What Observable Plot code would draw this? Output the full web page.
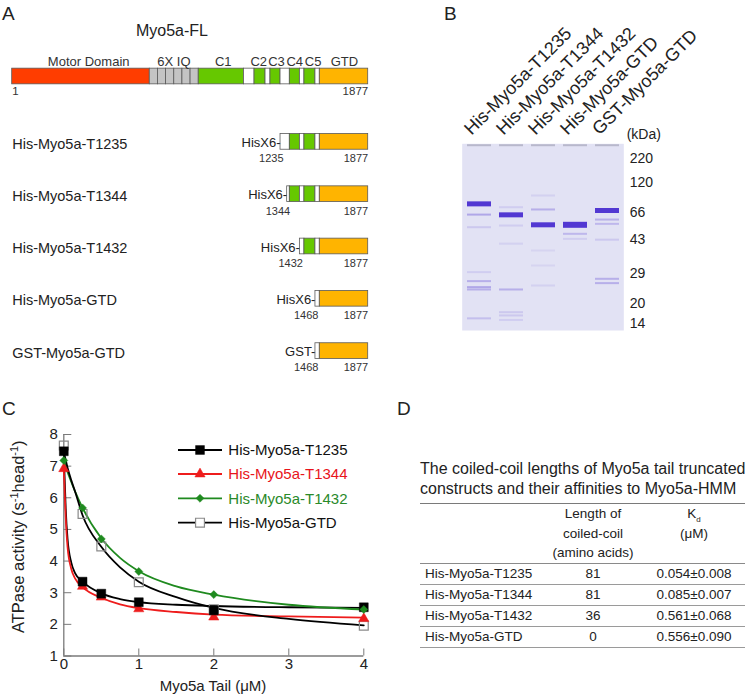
<!DOCTYPE html>
<html><head><meta charset="utf-8">
<script src="https://cdn.jsdelivr.net/npm/d3@7"></script>
<script src="https://cdn.jsdelivr.net/npm/@observablehq/plot@0.6"></script>
<style>
html,body{margin:0;padding:0;background:#fff;}
#fig{position:relative;width:745px;height:696px;overflow:hidden;font-family:"Liberation Sans",Arial,sans-serif;color:#222;}
.abs{position:absolute;white-space:nowrap;line-height:1;}
#fig svg{position:absolute;}
table.kd{position:absolute;border-collapse:collapse;font-size:13.5px;color:#222;}
table.kd td{padding:0;}
</style></head><body><div id="fig"></div>
<script>
// ---------------- Panel A data ----------------
const flSegStart = [1, 726, 769, 812, 855, 898, 941, 984, 1222, 1278, 1336, 1362, 1415, 1464, 1517, 1541, 1599, 1622];
const flSegEnd   = [726, 769, 812, 855, 898, 941, 984, 1222, 1278, 1336, 1362, 1415, 1464, 1517, 1541, 1599, 1622, 1877];
const flSegType  = ["motor","iq","iq","iq","iq","iq","iq","cc","gap","cc","gap","cc","gap","cc","gap","cc","gap","gtd"];
const domainLabels = ["Motor Domain","6X IQ","C1","C2","C3","C4","C5","GTD"];
const domainLabelPos = [404, 853, 1113, 1300, 1394, 1490, 1587, 1752];
const constructNames = ["His-Myo5a-T1235","His-Myo5a-T1344","His-Myo5a-T1432","His-Myo5a-GTD","GST-Myo5a-GTD"];
const constructTags = ["HisX6-","HisX6-","HisX6-","HisX6-","GST-"];
const constructFirstResidue = [1235, 1344, 1432, 1468, 1468];
const constructBarStart = [1415, 1450, 1517, 1599, 1599];
const constructRows = [1.25, 2.25, 3.25, 4.25, 5.25];
const lastResidue = 1877;
const segColors = {motor:"#ff3d00", iq:"#c4c4c4", cc:"#66c800", gap:"#ffffff", gtd:"#ffb400"};

// ---------------- Panel B data ----------------
const gelLanes = ["His-Myo5a-T1235","His-Myo5a-T1344","His-Myo5a-T1432","His-Myo5a-GTD","GST-Myo5a-GTD"];
const mwMarkers = [220, 120, 66, 43, 29, 20, 14];
const bandLane     = [0,0,0,0,0,0,0,0, 1,1,1,1,1,1,1,1, 2,2,2,2,2,2, 3,3,3, 4,4,4,4,4,4, 0,1,2,3,4];
const bandKDa      = [81,64,53.5,29.7,26.8,25,24.3,15.5, 75,63.8,54.9,41.4,24.3,17.4,16.4,15, 96,70.9,55.5,38.6,32.4,25.5, 55.5,48,43.8, 69.1,59.9,56.3,43.1,27.5,26.2, 278,278,278,278,278];
const bandStrength = [1,.35,.15,.12,.3,.35,.3,.2, .12,1,.12,.1,.3,.15,.15,.12, .1,.3,1,.08,.08,.1, 1,.25,.12, 1,.3,.25,.15,.3,.3, .35,.35,.35,.35,.35];
const bandThick    = [5,2,2,2,2,2,2,2, 2,5,2,2,2,2,2,2, 2,2,5,2,2,2, 6,2,2, 5,2,2,2,2,2, 2,2,2,2,2];

// ---------------- Panel C data ----------------
const seriesNames = ["His-Myo5a-T1235","His-Myo5a-T1344","His-Myo5a-T1432","His-Myo5a-GTD"];
const seriesColors = ["#000000","#ee1c1c","#1f8a1f","#000000"];
const seriesTextColors = ["#111111","#e8141b","#2a8a2a","#111111"];
const seriesSymbols = ["square","triangle","diamond2","square"];
const seriesFill = ["#000000","#ee1c1c","#1f8a1f","none"];
const seriesMarkerStroke = ["#000000","#ee1c1c","#1f8a1f","#8a8a8a"];
const seriesMarkerR = [5, 3.8, 3.6, 5];
const tailConc = [0, 0.25, 0.5, 1, 2, 4];
const atpT1235 = [7.47, 3.35, 2.97, 2.70, 2.44, 2.54];
const atpT1344 = [6.92, 3.20, 2.86, 2.49, 2.23, 2.18];
const atpT1432 = [7.18, 5.68, 4.70, 3.67, 2.94, 2.47];
const atpGTD   = [7.65, 5.49, 4.46, 3.33, 2.48, 1.96];
const fitConc  = [0, 0.01, 0.025, 0.05, 0.1, 0.15, 0.25, 0.5, 0.75, 1, 1.5, 2, 3, 4];
const fitT1235 = [7.45, 6.7, 5.7, 4.7, 3.95, 3.62, 3.35, 2.98, 2.8, 2.7, 2.62, 2.58, 2.54, 2.52];
const fitT1344 = [6.92, 6.3, 5.4, 4.45, 3.75, 3.45, 3.18, 2.84, 2.63, 2.51, 2.39, 2.31, 2.25, 2.21];
const fitT1432 = [7.2, 7.12, 7.0, 6.82, 6.5, 6.2, 5.68, 4.72, 4.1, 3.68, 3.2, 2.94, 2.62, 2.47];
const fitGTD   = [7.45, 7.35, 7.2, 6.95, 6.55, 6.2, 5.45, 4.45, 3.8, 3.35, 2.86, 2.52, 2.17, 1.97];
const yTicks = [1, 2, 3, 4, 5, 6, 7, 8];
const xTicks = [0, 1, 2, 3, 4];

// ---------------- Panel D data ----------------
const tableConstructs = ["His-Myo5a-T1235","His-Myo5a-T1344","His-Myo5a-T1432","His-Myo5a-GTD"];
const coiledCoilLength = [81, 81, 36, 0];
const kdMean = [0.054, 0.085, 0.561, 0.556];
const kdErr  = [0.008, 0.007, 0.068, 0.090];

// ---------------- helpers ----------------
const FONT = "Liberation Sans, Arial, sans-serif";
const fig = document.getElementById("fig");
function label(html, x, baseline, fs, opts = {}) {
  const d = document.createElement("div");
  d.className = "abs";
  d.innerHTML = html;
  d.style.fontSize = fs + "px";
  d.style.left = x + "px";
  d.style.top = (baseline - 0.85 * fs) + "px";
  if (opts.anchor === "middle") d.style.transform = "translateX(-50%)";
  if (opts.anchor === "end") d.style.transform = "translateX(-100%)";
  if (opts.color) d.style.color = opts.color;
  fig.appendChild(d);
  return d;
}
function place(svg, left, top) {
  svg.style.left = left + "px";
  svg.style.top = top + "px";
  fig.appendChild(svg);
}

// panel letters
label("A", 2, 20, 19);
label("B", 444, 20, 19);
label("C", 2, 415, 19);
label("D", 397, 415, 19);

// ---------------- Panel A ----------------
const segs = [];
flSegStart.forEach((s, j) => segs.push({row: 0, x1: s, x2: flSegEnd[j], type: flSegType[j]}));
constructBarStart.forEach((b, i) => {
  flSegStart.forEach((s, j) => {
    if (flSegEnd[j] > b) segs.push({row: constructRows[i], x1: Math.max(s, b), x2: flSegEnd[j], type: flSegType[j]});
  });
});
const plotA = Plot.plot({
  width: 380, height: 380, marginLeft: 11.7, marginRight: 12.3, marginTop: 0, marginBottom: 0,
  x: {domain: [1, lastResidue], axis: null},
  y: {domain: [0, 5.25], range: [76, 350.6], axis: null},
  style: {fontFamily: FONT, background: "transparent", overflow: "visible", color: "#222"},
  marks: [
    Plot.rect(segs, {x1: "x1", x2: "x2", y1: d => d.row - 0.15, y2: d => d.row + 0.15,
      fill: d => segColors[d.type], stroke: "#5a5a5a", strokeWidth: 0.8}),
    Plot.text(domainLabels, {x: (d, i) => domainLabelPos[i], y: () => 0, text: d => d, dy: -14.5, fontSize: 13, fill: "#333"}),
    Plot.text(["1"], {x: () => 1, y: () => 0, text: d => d, dy: 15.3, textAnchor: "start", fontSize: 11.5, fill: "#333"}),
    Plot.text([String(lastResidue)], {x: () => lastResidue, y: () => 0, text: d => d, dy: 15.3, textAnchor: "end", fontSize: 11.5, fill: "#333"}),
    Plot.text(constructNames, {x: () => 1, y: (d, i) => constructRows[i], text: d => d, dy: 2, textAnchor: "start", fontSize: 14.5, fill: "#222"}),
    Plot.text(constructTags, {x: (d, i) => constructBarStart[i], y: (d, i) => constructRows[i], text: d => d, dy: 1, textAnchor: "end", fontSize: 13, fill: "#222"}),
    Plot.text(constructFirstResidue, {x: (d, i) => constructBarStart[i], y: (d, i) => constructRows[i], text: d => String(d), dx: 3, dy: 16.8, textAnchor: "end", fontSize: 11, fill: "#333"}),
    Plot.text(constructRows, {x: () => lastResidue, y: d => d, text: () => String(lastResidue), dy: 16.8, textAnchor: "end", fontSize: 11, fill: "#333"})
  ]
});
place(plotA, 0, 0);
label("Myo5a-FL", 172, 37, 16, {anchor: "middle"});

// ---------------- Panel B ----------------
const bands = bandLane.map((l, i) => ({lane: gelLanes[l], kDa: bandKDa[i], s: bandStrength[i], w: bandThick[i], well: bandKDa[i] > 250}));
const plotB = Plot.plot({
  width: 305, height: 340, marginLeft: 21.7, marginRight: 121.7, marginTop: 143.3, marginBottom: 10,
  x: {type: "band", domain: gelLanes, padding: 0, axis: null},
  y: {type: "linear", domain: [284, 220, 120, 66, 43, 29, 20, 14, 11.7],
      range: [143.3, 158.3, 181.7, 211.7, 239.3, 273.3, 303.3, 322.7, 330]},
  style: {fontFamily: FONT, background: "transparent", overflow: "visible", color: "#222"},
  marks: [
    Plot.frame({fill: "#e2e2f4", stroke: null}),
    Plot.tickY(bands, {x: "lane", y: "kDa", stroke: d => d.well ? "#6b6b80" : "#5238d2",
      strokeOpacity: "s", strokeWidth: "w", insetLeft: 4, insetRight: 4}),
    Plot.axisY({anchor: "right", ticks: mwMarkers, tickSize: 0, tickPadding: 6, fontSize: 14, label: null, tickFormat: d => String(d)}),
    Plot.text(gelLanes, {x: d => d, frameAnchor: "top", text: d => d, rotate: -45, textAnchor: "start",
      lineAnchor: "bottom", dx: -8, dy: -8, fontSize: 18, fill: "#222"})
  ]
});
plotB.querySelectorAll('g[aria-label="tick"]').forEach(g => g.style.filter = "blur(0.6px)");
place(plotB, 440, 0);
label("(kDa)", 626.7, 139.3, 14);

// ---------------- Panel C ----------------
const atpSets = [atpT1235, atpT1344, atpT1432, atpGTD];
const fitSets = [fitT1235, fitT1344, fitT1432, fitGTD];
const fitRows = [];
fitSets.forEach((f, s) => f.forEach((v, i) => fitRows.push({series: seriesNames[s], x: fitConc[i], y: v})));
const pointRows = s => tailConc.map((c, i) => ({x: c, y: atpSets[s][i]}));
const dotMark = s => Plot.dot(pointRows(s), {x: "x", y: "y", symbol: seriesSymbols[s], r: seriesMarkerR[s],
  fill: seriesFill[s], stroke: seriesMarkerStroke[s], strokeWidth: s === 3 ? 1.2 : 0.5});
const plotC = Plot.plot({
  width: 380, height: 296, marginLeft: 63.3, marginRight: 16.7, marginTop: 34, marginBottom: 40.5,
  x: {domain: [0, 4]},
  y: {domain: [1, 8]},
  style: {fontFamily: FONT, background: "transparent", overflow: "visible", color: "#222"},
  marks: [
    Plot.ruleX([0], {stroke: "#7a7a7a", strokeWidth: 1.3}),
    Plot.ruleY([1], {stroke: "#7a7a7a", strokeWidth: 1.3}),
    Plot.axisX({ticks: xTicks, tickSize: -7, tickPadding: 9.5, stroke: "#7a7a7a", fontSize: 15, label: null, tickFormat: d => String(d)}),
    Plot.axisY({ticks: yTicks, tickSize: -8, tickPadding: 14, stroke: "#7a7a7a", fontSize: 15, label: null, tickFormat: d => String(d)}),
    Plot.line(fitRows, {x: "x", y: "y", z: "series", stroke: d => seriesColors[seriesNames.indexOf(d.series)],
      strokeWidth: 1.8, curve: "monotone-x"}),
    dotMark(3), dotMark(1), dotMark(0), dotMark(2)
  ]
});
{
  const yl = d3.select(plotC).append("text")
    .attr("transform", "translate(24,136.7) rotate(-90)")
    .attr("text-anchor", "middle").attr("font-size", 16.5).attr("fill", "#222").attr("font-family", FONT);
  yl.append("tspan").text("ATPase activity (s");
  yl.append("tspan").attr("font-size", 11).attr("dy", -6).text("-1");
  yl.append("tspan").attr("dy", 6).text("head");
  yl.append("tspan").attr("font-size", 11).attr("dy", -6).text("-1");
  yl.append("tspan").attr("dy", 6).text(")");
}
place(plotC, 0, 400);
label("Myo5a Tail (&mu;M)", 213, 691, 15, {anchor: "middle"});

// legend for panel C
{
  const legendY = [450, 474, 498.3, 522.7];
  const lg = d3.create("svg").attr("width", 220).attr("height", 100);
  const ox = 170, oy = 435;
  const symMap = {square: d3.symbolSquare, triangle: d3.symbolTriangle, diamond2: d3.symbolDiamond2};
  seriesNames.forEach((n, s) => {
    const cy = legendY[s] - oy;
    lg.append("line").attr("x1", 178 - ox).attr("x2", 222 - ox).attr("y1", cy).attr("y2", cy)
      .attr("stroke", seriesColors[s]).attr("stroke-width", 1.8);
    lg.append("path").attr("transform", `translate(${200 - ox},${cy})`)
      .attr("d", d3.symbol(symMap[seriesSymbols[s]], Math.PI * seriesMarkerR[s] ** 2)())
      .attr("fill", s === 3 ? "#fff" : seriesFill[s]).attr("stroke", seriesMarkerStroke[s]).attr("stroke-width", s === 3 ? 1.2 : 0.5);
    lg.append("text").attr("x", 228.3 - ox).attr("y", cy).attr("dy", "0.35em").attr("font-size", 15)
      .attr("font-family", FONT).attr("fill", seriesTextColors[s]).text(n);
  });
  place(lg.node(), ox, oy);
}

// ---------------- Panel D ----------------
label("The coiled-coil lengths of Myo5a tail truncated", 420, 475, 16);
label("constructs and their affinities to Myo5a-HMM", 420, 495, 16);
{
  const t = document.createElement("table");
  t.className = "kd";
  t.style.left = "420px"; t.style.top = "503px"; t.style.width = "325px";
  let html = `<tr style="border-top:1.5px solid #7a7a7a;border-bottom:1px solid #8a8a8a">
    <td style="width:123px"></td>
    <td style="width:100px;text-align:center;line-height:19.5px;vertical-align:top">Length of<br>coiled-coil<br>(amino acids)</td>
    <td style="text-align:center;line-height:19.5px;vertical-align:top">K<sub style="font-size:8px;line-height:0">d</sub><br>(&mu;M)</td></tr>`;
  tableConstructs.forEach((n, i) => {
    html += `<tr style="height:21px;border-bottom:1px solid #9a9a9a">
      <td style="padding-left:5px">${n}</td>
      <td style="text-align:center">${coiledCoilLength[i]}</td>
      <td style="text-align:center">${kdMean[i].toFixed(3)}&plusmn;${kdErr[i].toFixed(3)}</td></tr>`;
  });
  t.innerHTML = html;
  fig.appendChild(t);
}
</script></body></html>
